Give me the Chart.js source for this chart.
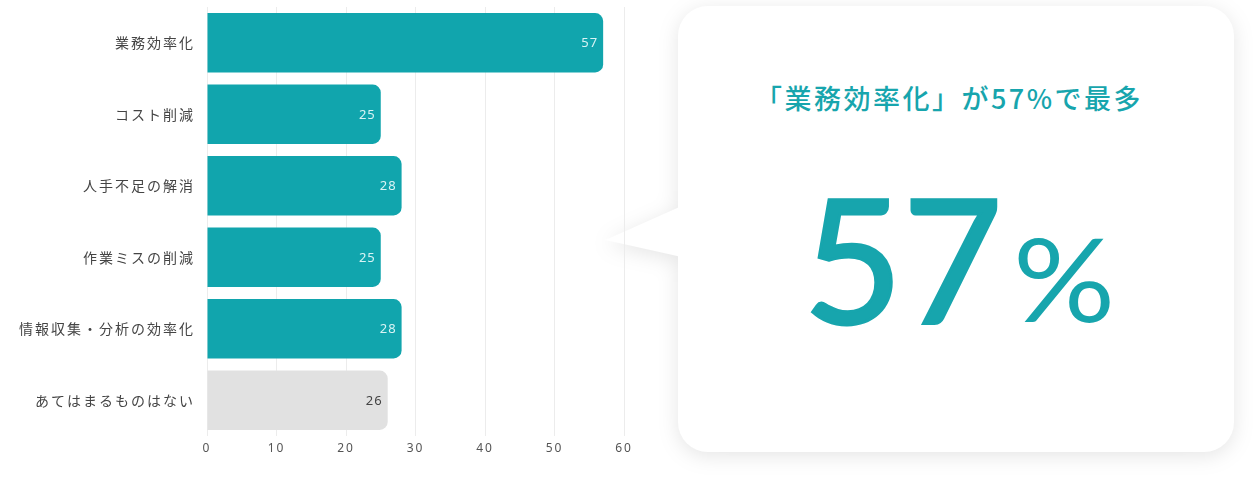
<!DOCTYPE html>
<html>
<head>
<meta charset="utf-8">
<script src="https://cdn.jsdelivr.net/npm/chart.js@4"></script>
<style>
  body { margin: 0; background: #fff; width: 1258px; height: 478px; overflow: hidden; position: relative; font-family: "Noto Sans CJK JP", sans-serif; }
  #wrap { position: absolute; left: 0; top: 0; width: 640px; height: 478px; }
  #bubble { position: absolute; left: 0; top: 0; width: 1258px; height: 478px; filter: drop-shadow(0 4px 10px rgba(0,0,0,0.10)); pointer-events: none; }
  #card { position: absolute; left: 678px; top: 6px; width: 556px; height: 446px; background: #fff; border-radius: 30px; }
  #tip { position: absolute; left: 604px; top: 205px; width: 80px; height: 70px; background: #fff; clip-path: polygon(100% 0, 2% 50%, 100% 75%); }
  #title { position: absolute; left: 671px; width: 556px; top: 78px; text-align: center; color: #17a5ad; font-size: 27px; font-weight: 500; letter-spacing: 2.5px; }
  #big { position: absolute; left: 803px; top: 154px; color: #17a5ad; font-family: Lato, sans-serif; white-space: nowrap; }
  #big .num { font-size: 172px; font-weight: 400; -webkit-text-stroke: 3px #17a5ad; }
  #big .pct { display: inline-block; font-size: 116px; margin-left: 10px; transform: scaleX(1.1); transform-origin: left; position: relative; top: -2px; }
</style>
</head>
<body>
<div id="bubble"><div id="tip"></div><div id="card"></div></div>
<div id="title">「業務効率化」が57%で最多</div>
<div id="big"><span class="num">57</span><span class="pct">%</span></div>
<div id="wrap"><canvas id="mychart"></canvas></div>
<script>
//データ
const labels = ['業務効率化', 'コスト削減', '人手不足の解消', '作業ミスの削減', '情報収集・分析の効率化', 'あてはまるものはない'];
const values = [57, 25, 28, 25, 28, 26];
const xTicks = [0, 10, 20, 30, 40, 50, 60];

const teal = '#11a5ad';
const gray = '#e1e1e1';
const barColors = values.map((v, i) => i === values.length - 1 ? gray : teal);
const textColors = values.map((v, i) => i === values.length - 1 ? '#444' : '#d9f4f5');

//文字間隔
const spacing = {
    id: 'spacing',
    beforeDraw(chart) { chart.ctx.letterSpacing = '2px'; },
    afterDraw(chart) { chart.ctx.letterSpacing = '0px'; }
};

//棒の中に数値
const valueLabels = {
    id: 'valueLabels',
    afterDatasetsDraw(chart) {
        const ctx = chart.ctx;
        const meta = chart.getDatasetMeta(0);
        ctx.save();
        ctx.letterSpacing = '1px';
        ctx.font = '13px "Noto Sans", sans-serif';
        ctx.textAlign = 'right';
        ctx.textBaseline = 'middle';
        meta.data.forEach((bar, i) => {
            ctx.fillStyle = textColors[i];
            ctx.fillText(values[i], bar.x - 5, bar.y + 1);
        });
        ctx.restore();
    }
};

const ctx = document.getElementById('mychart');

const mychart = new Chart(ctx, {
    type: 'bar',
    data: {
        labels: labels,
        datasets: [{
            data: values,
            backgroundColor: barColors,
            borderRadius: 8,
            borderSkipped: 'start',
            categoryPercentage: 1,
            barPercentage: 0.83
        }]
    },
    options: {
        indexAxis: 'y',
        responsive: true,
        maintainAspectRatio: false,
        animation: false,
        layout: { padding: { top: 7, right: 16 } },
        plugins: {
            legend: { display: false },
            tooltip: { enabled: false }
        },
        scales: {
            x: {
                min: 0,
                max: 60,
                afterBuildTicks: (axis) => { axis.ticks = xTicks.map(v => ({ value: v })); },
                afterFit: (axis) => { axis.height = 42; },
                grid: { color: '#ececec', drawTicks: false },
                border: { display: false },
                ticks: { color: '#555', padding: 5, font: { family: '"Noto Sans", sans-serif', size: 12 } }
            },
            y: {
                afterFit: (axis) => { axis.width = 207; axis.paddingTop = 0; axis.paddingBottom = 0; },
                grid: { display: false },
                border: { display: false },
                ticks: { color: '#444', padding: 4, font: { family: '"Noto Sans CJK JP", sans-serif', size: 14 } }
            }
        }
    },
    plugins: [spacing, valueLabels]
});
</script>
</body>
</html>
